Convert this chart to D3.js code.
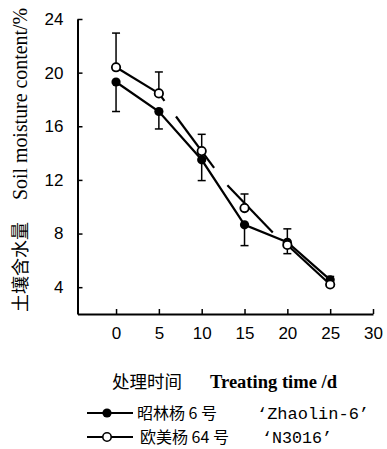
<!DOCTYPE html>
<html>
<head>
<meta charset="utf-8">
<script src="https://cdn.jsdelivr.net/npm/d3@7"></script>
<style>
  body { margin: 0; background: #fff; }
  svg { display: block; }
</style>
</head>
<body>
<svg id="chart" width="387" height="449"></svg>
<script>
// data
const days = [0, 5, 10, 15, 20, 25];
const zhaolin = [19.3, 17.1, 13.5, 8.65, 7.35, 4.55];
const zhaolinErr = [2.2, 1.3, 1.55, 1.55, 0.85, 0.4];   // drawn downwards
const n3016 = [20.4, 18.45, 14.15, 9.9, 7.15, 4.2];
const n3016Err = [2.55, 1.6, 1.25, 1.05, 1.2, 0.6];     // drawn upwards
const xTicks = [0, 5, 10, 15, 20, 25, 30];
const yTicks = [4, 8, 12, 16, 20, 24];

// the open-circle line is broken up in the print: [segment, t] pairs along the polyline
const openPieces = [
  [[0, 0], [0, 1]],
  [[1, 0], [1, 0.13]],
  [[1, 0.4], [1, 1.29]],
  [[2, 0.6], [3, 0.66]],
  [[4, 0], [4, 1]],
];

const svg = d3.select("#chart");
const x = d3.scaleLinear().domain([-4.5, 30]).range([77.5, 373]);
const y = d3.scaleLinear().domain([2, 24]).range([314, 19]);

const sans = "'Liberation Sans', Arial, sans-serif";
const serif = "'Liberation Serif', 'Times New Roman', serif";
const cjk = "'Noto Sans CJK SC', sans-serif";
const mono = "'Liberation Mono', 'Courier New', monospace";

// axes
const xAxis = d3.axisBottom(x).tickValues(xTicks).tickSizeInner(-5).tickSizeOuter(0).tickPadding(13);
const yAxis = d3.axisLeft(y).tickValues(yTicks).tickSizeInner(-5).tickSizeOuter(0).tickPadding(14);

const gx = svg.append("g").attr("transform", `translate(0,${y(2)})`).call(xAxis);
const gy = svg.append("g").attr("transform", `translate(${x(-4.5)},0)`).call(yAxis);
[gx, gy].forEach(g => {
  g.select(".domain").attr("stroke", "#000").attr("stroke-width", 2);
  g.selectAll(".tick line").attr("stroke", "#000").attr("stroke-width", 1.5);
  g.selectAll(".tick text").attr("fill", "#000")
    .style("font-family", sans).style("font-size", "17px");
});

// error bars
function errorBars(vals, errs, dir) {
  const g = svg.append("g").attr("stroke", "#000").attr("stroke-width", 1.5);
  days.forEach((d, i) => {
    const y0 = y(vals[i]), y1 = y(vals[i] + dir * errs[i]);
    g.append("line").attr("x1", x(d)).attr("x2", x(d)).attr("y1", y0).attr("y2", y1);
    g.append("line").attr("x1", x(d) - 4).attr("x2", x(d) + 4).attr("y1", y1).attr("y2", y1);
  });
}
errorBars(zhaolin, zhaolinErr, -1);
errorBars(n3016, n3016Err, 1);

// filled series line
const line = d3.line().x((d, i) => x(days[i])).y(d => y(d));
svg.append("path").datum(zhaolin).attr("d", line)
  .attr("fill", "none").attr("stroke", "#000").attr("stroke-width", 2.2);

// open series line, in pieces
const pt = ([s, t]) => [
  x(days[s]) + t * (x(days[s + 1]) - x(days[s])),
  y(n3016[s]) + t * (y(n3016[s + 1]) - y(n3016[s]))
];
svg.append("g").selectAll("path").data(openPieces).join("path")
  .attr("d", p => d3.line()(p.map(pt)))
  .attr("fill", "none").attr("stroke", "#000").attr("stroke-width", 2.2);

// markers
svg.append("g").selectAll("circle").data(zhaolin).join("circle")
  .attr("cx", (d, i) => x(days[i])).attr("cy", d => y(d)).attr("r", 4.6).attr("fill", "#000");
svg.append("g").selectAll("circle").data(n3016).join("circle")
  .attr("cx", (d, i) => x(days[i])).attr("cy", d => y(d)).attr("r", 4.2)
  .attr("fill", "#fff").attr("stroke", "#000").attr("stroke-width", 1.8);

// y label
const yl = svg.append("text").attr("transform", "translate(27,312) rotate(-90)")
  .attr("fill", "#000");
yl.append("tspan").style("font-family", cjk).style("font-size", "18px").text("土壤含水量");
yl.append("tspan").attr("dx", 22).style("font-family", serif).style("font-size", "20px")
  .attr("textLength", 192).attr("lengthAdjust", "spacingAndGlyphs")
  .text("Soil moisture content/%");

// x label
const xl = svg.append("text").attr("x", 112).attr("y", 388).attr("fill", "#000");
xl.append("tspan").style("font-family", cjk).style("font-size", "17.5px").text("处理时间");
xl.append("tspan").attr("x", 210).style("font-family", serif).style("font-size", "18px")
  .style("font-weight", "bold").attr("textLength", 127).attr("lengthAdjust", "spacingAndGlyphs")
  .text("Treating time /d");

// legend
const legend = [
  { filled: true, cn: "昭林杨 6 号", en: "‘Zhaolin-6’", ly: 413, tx: 137, ex: 257, ew: 112 },
  { filled: false, cn: "欧美杨 64 号", en: "‘N3016’", ly: 437, tx: 140, ex: 262, ew: 70 },
];
const lg = svg.append("g");
legend.forEach(l => {
  lg.append("line").attr("x1", 87).attr("x2", 133).attr("y1", l.ly).attr("y2", l.ly)
    .attr("stroke", "#000").attr("stroke-width", 2);
  lg.append("circle").attr("cx", 107).attr("cy", l.ly).attr("r", l.filled ? 4.6 : 4.2)
    .attr("fill", l.filled ? "#000" : "#fff").attr("stroke", "#000")
    .attr("stroke-width", l.filled ? 0 : 1.6);
  lg.append("text").attr("x", l.tx).attr("y", l.ly + 6).attr("fill", "#000")
    .style("font-family", cjk).style("font-size", "16px").text(l.cn);
  lg.append("text").attr("x", l.ex).attr("y", l.ly + 6).attr("fill", "#000")
    .style("font-family", mono).style("font-size", "16px")
    .attr("textLength", l.ew).attr("lengthAdjust", "spacingAndGlyphs").text(l.en);
});
</script>
</body>
</html>
